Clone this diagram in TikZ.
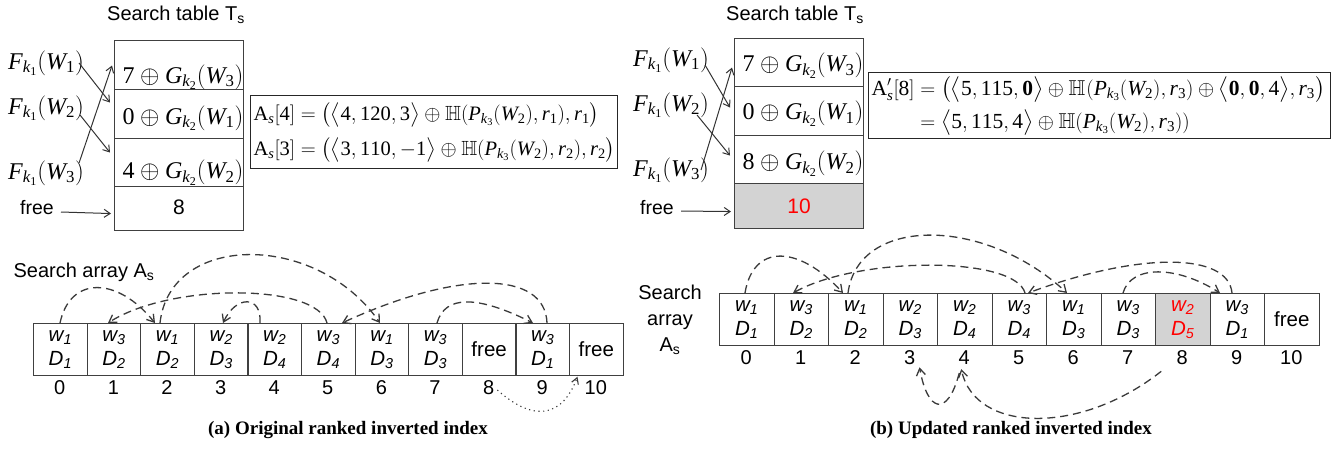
\documentclass[tikz,border=0pt]{standalone}
\usepackage{amsmath}
\usepackage{amssymb}
\usepackage[no-math]{fontspec}
\setmainfont{Liberation Serif}
\setsansfont{Liberation Sans}
\DeclareSymbolFont{tletters}{TU}{\rmdefault}{m}{it}
\DeclareSymbolFont{tdigits}{TU}{\rmdefault}{m}{n}
\DeclareMathSymbol{F}{\mathalpha}{tletters}{`F}
\DeclareMathSymbol{G}{\mathalpha}{tletters}{`G}
\DeclareMathSymbol{W}{\mathalpha}{tletters}{`W}
\DeclareMathSymbol{P}{\mathalpha}{tletters}{`P}
\DeclareMathSymbol{k}{\mathalpha}{tletters}{`k}
\DeclareMathSymbol{r}{\mathalpha}{tletters}{`r}
\DeclareMathSymbol{s}{\mathalpha}{tletters}{`s}
\DeclareMathSymbol{0}{\mathalpha}{tdigits}{`0}
\DeclareMathSymbol{1}{\mathalpha}{tdigits}{`1}
\DeclareMathSymbol{2}{\mathalpha}{tdigits}{`2}
\DeclareMathSymbol{3}{\mathalpha}{tdigits}{`3}
\DeclareMathSymbol{4}{\mathalpha}{tdigits}{`4}
\DeclareMathSymbol{5}{\mathalpha}{tdigits}{`5}
\DeclareMathSymbol{7}{\mathalpha}{tdigits}{`7}
\DeclareMathSymbol{8}{\mathalpha}{tdigits}{`8}
\usetikzlibrary{arrows.meta,calc}
\definecolor{bordc}{HTML}{404040}
\definecolor{arcc}{HTML}{3A3A3A}
\definecolor{cellgray}{HTML}{D3D3D3}
\definecolor{hired}{HTML}{FF0000}
\newcommand{\wdc}[2]{w\textsubscript{#1}\\D\textsubscript{#2}}
\tikzset{
  cellbox/.style={draw=bordc, line width=1.1pt, minimum width=54.5pt, minimum height=52pt, inner sep=0pt, anchor=north west, align=center, font=\sffamily\itshape\fontsize{20.5}{24}\selectfont},
  cellboxL/.style={cellbox, minimum width=53.6pt},
  idxlab/.style={font=\sffamily\fontsize{20}{20}\selectfont, inner sep=0pt},
  rowbox/.style={draw=bordc, line width=1.1pt, minimum width=129pt, inner sep=0pt, anchor=north west},
  rowtext/.style={inner sep=0pt, font=\fontsize{24}{24}\selectfont},
  flab/.style={anchor=west, inner sep=0pt, font=\fontsize{24}{24}\selectfont},
  sanslab/.style={font=\sffamily\fontsize{19.5}{19.5}\selectfont, inner sep=0pt},
  titlelab/.style={font=\sffamily\fontsize{20}{26}\selectfont, inner sep=0pt, align=center},
  farrow/.style={draw=black!80, line width=1pt, -{Straight Barb[length=6pt,width=8pt]}},
  dasharc/.style={draw=arcc, line width=1.3pt, dash pattern=on 8pt off 5pt, -{Straight Barb[length=7pt,width=9pt]}},
  dotarc/.style={draw=arcc, line width=1.1pt, dash pattern=on 1.2pt off 3.5pt, -{Straight Barb[length=6pt,width=7pt]}},
  eqbox/.style={draw=black!85, line width=1.3pt, inner xsep=3pt, inner ysep=0pt, anchor=north west, align=left},
  captionlab/.style={font=\bfseries\fontsize{19}{19}\selectfont, inner sep=0pt}
}
\begin{document}
\begin{tikzpicture}[x=1pt,y=-1pt]
\useasboundingbox (0,0) rectangle (1335,448);

% ================= LEFT PANEL =================
\node[titlelab] (titleL) at (176,15) {Search table T\textsubscript{s}};
\node[rowbox, minimum height=49pt] (rL1) at (114,40) {};
\node[rowbox, minimum height=49pt] (rL2) at (114,89) {};
\node[rowbox, minimum height=48pt] (rL3) at (114,138) {};
\node[rowbox, minimum height=44pt] (rL4) at (114,186) {};
\node[rowtext] (tL1) at ($(rL1.center)+(4,12)$) {$7\oplus G_{k_2}(W_3)$};
\node[rowtext] (tL2) at ($(rL2.center)+(4,4)$) {$0\oplus G_{k_2}(W_1)$};
\node[rowtext] (tL3) at ($(rL3.center)+(4,10)$) {$4\oplus G_{k_2}(W_2)$};
\node[sanslab, font=\sffamily\fontsize{21}{21}\selectfont] (tL4) at ($(rL4.center)+(0,-1)$) {8};

\node[flab] (fL1) at (8,63) {$F_{k_1}(W_1)$};
\node[flab] (fL2) at (8,108) {$F_{k_1}(W_2)$};
\node[flab] (fL3) at (8,173) {$F_{k_1}(W_3)$};
\node[sanslab] (freeL) at (37,208) {free};

\draw[farrow] ($(fL1.east)+(-5,0)$) -- ($(rL2.west)+(-4,-11.5)$);
\draw[farrow] ($(fL2.east)+(-4,7)$) -- ($(rL3.west)+(-4,-10)$);
\draw[farrow] ($(fL3.east)+(-5,-10)$) -- ($(rL1.west)+(-2,0.5)$);
\draw[farrow] ($(freeL.east)+(7,4)$) -- ($(rL4.west)+(-3,5)$);

\node[eqbox, text width=361pt, minimum height=73pt, font=\fontsize{20.5}{30}\selectfont] (eqL) at (250,95) {%
$\begin{array}{@{}l@{}}
\textrm{A}_s[4]=\bigl(\bigl\langle 4,120,3\bigr\rangle\oplus\mathbb{H}(P_{k_3}(W_2),r_1),r_1\bigr)\\[5pt]
\textrm{A}_s[3]=\bigl(\bigl\langle 3,110,-1\bigr\rangle\oplus\mathbb{H}(P_{k_3}(W_2),r_2),r_2\bigr)
\end{array}$};

\node[titlelab] (arrL) at (84,272) {Search array A\textsubscript{s}};

\node[cellboxL] (l0) at (33.0,323) {\wdc{1}{1}};
\node[cellboxL] (l1) at (86.6,323) {\wdc{3}{2}};
\node[cellboxL] (l2) at (140.2,323) {\wdc{1}{2}};
\node[cellboxL] (l3) at (193.8,323) {\wdc{2}{3}};
\node[cellboxL] (l4) at (247.4,323) {\wdc{2}{4}};
\node[cellboxL] (l5) at (301.0,323) {\wdc{3}{4}};
\node[cellboxL] (l6) at (354.6,323) {\wdc{1}{3}};
\node[cellboxL] (l7) at (408.2,323) {\wdc{3}{3}};
\node[cellboxL] (l8) at (461.8,323) {\upshape free};
\node[cellboxL] (l9) at (515.4,323) {\wdc{3}{1}};
\node[cellboxL] (l10) at (569.0,323) {\upshape free};
\foreach \i in {0,...,10} \node[idxlab] (li\i) at ({33+53.6*(\i+0.5)},388) {\i};

\draw[dasharc] ($(l0.north west)+(27,0)$) .. controls +(10,-47) and +(-38,-47) .. ($(l2.north west)+(14.8,0)$);
\draw[dasharc] ($(l2.north west)+(19.8,0)$) .. controls +(10,-91) and +(-63,-91) .. ($(l6.north west)+(25.4,0)$);
\draw[dasharc] ($(l5.north west)+(26,0)$) .. controls +(-10,-40) and +(62,-40) .. ($(l1.north west)+(21.4,0)$);
\draw[dasharc] ($(l4.north west)+(12.6,0)$) .. controls +(2,-28) and +(13,-28) .. ($(l3.north west)+(29.2,0)$);
\draw[dasharc] ($(l9.north west)+(31.6,0)$) .. controls +(-2,-53) and +(115,-53) .. ($(l5.north west)+(41,0)$);
\draw[dasharc] ($(l7.north west)+(28.8,0)$) .. controls +(8,-28) and +(-56,-28) .. ($(l9.north west)+(17.6,0)$);
\draw[dotarc] ($(li8.east)+(3,2)$) .. controls +(37,33) and +(-15,40) .. ($(li10.north west)+(-7,-4)$);

\node[captionlab] (capA) at (348,430) {(a) Original ranked inverted index};

% ================= RIGHT PANEL =================
\node[titlelab] (titleR) at (795,15) {Search table T\textsubscript{s}};
\node[rowbox, minimum height=48pt] (rR1) at (734,38) {};
\node[rowbox, minimum height=49pt] (rR2) at (734,86) {};
\node[rowbox, minimum height=48pt] (rR3) at (734,135) {};
\node[rowbox, minimum height=45pt, fill=cellgray] (rR4) at (734,183) {};
\node[rowtext] (tR1) at ($(rR1.center)+(4,3)$) {$7\oplus G_{k_2}(W_3)$};
\node[rowtext] (tR2) at ($(rR2.center)+(4,2.5)$) {$0\oplus G_{k_2}(W_1)$};
\node[rowtext] (tR3) at ($(rR3.center)+(4,4)$) {$8\oplus G_{k_2}(W_2)$};
\node[sanslab, font=\sffamily\fontsize{21}{21}\selectfont, text=hired] (tR4) at ($(rR4.center)+(0,0)$) {10};

\node[flab] (fR1) at (633,60) {$F_{k_1}(W_1)$};
\node[flab] (fR2) at (633,105) {$F_{k_1}(W_2)$};
\node[flab] (fR3) at (633,170) {$F_{k_1}(W_3)$};
\node[sanslab] (freeR) at (657,208) {free};

\draw[farrow] ($(fR1.east)+(-4,5)$) -- ($(rR2.west)+(-4,-3.5)$);
\draw[farrow] ($(fR2.east)+(-12,10)$) -- ($(rR3.west)+(-4,-4)$);
\draw[farrow] ($(fR3.east)+(-8,0)$) -- ($(rR1.west)+(-2,5)$);
\draw[farrow] ($(freeR.east)+(7,3)$) -- ($(rR4.west)+(-3,5.5)$);

\node[eqbox, text width=456pt, minimum height=66pt, font=\fontsize{21.5}{30}\selectfont] (eqR) at (868,72) {%
$\begin{array}{@{}r@{}l@{}}
\textrm{A}'_s[8] & {}=\bigl(\bigl\langle 5,115,\textbf{0}\bigr\rangle\oplus\mathbb{H}\mkern1mu(P_{k_3}(W_2),r_3)\oplus\bigl\langle\textbf{0},\textbf{0},4\bigr\rangle,r_3\bigr)\\[3pt]
 & {}=\bigl\langle 5,115,4\bigr\rangle\oplus\mathbb{H}(P_{k_3}(W_2),r_3))
\end{array}$};

\node[titlelab] (arrR) at (670,320) {Search\\array\\A\textsubscript{s}};

\node[cellbox] (r0) at (719.0,293) {\wdc{1}{1}};
\node[cellbox] (r1) at (773.5,293) {\wdc{3}{2}};
\node[cellbox] (r2) at (828.0,293) {\wdc{1}{2}};
\node[cellbox] (r3) at (882.5,293) {\wdc{2}{3}};
\node[cellbox] (r4) at (937.0,293) {\wdc{2}{4}};
\node[cellbox] (r5) at (991.5,293) {\wdc{3}{4}};
\node[cellbox] (r6) at (1046.0,293) {\wdc{1}{3}};
\node[cellbox] (r7) at (1100.5,293) {\wdc{3}{3}};
\node[cellbox, fill=cellgray, text=hired] (r8) at (1155.0,293) {\wdc{2}{5}};
\node[cellbox] (r9) at (1209.5,293) {\wdc{3}{1}};
\node[cellbox] (r10) at (1264.0,293) {\upshape free};
\foreach \i in {0,...,10} \node[idxlab] (ri\i) at ({719+54.5*(\i+0.5)},358) {\i};

\draw[dasharc] ($(r0.north west)+(26,0)$) .. controls +(8,-49) and +(-45,-49) .. ($(r2.north west)+(15,0)$);
\draw[dasharc] ($(r2.north west)+(20,0)$) .. controls +(10,-77) and +(-83,-77) .. ($(r6.north west)+(21,0)$);
\draw[dasharc] ($(r5.north west)+(33.5,0)$) .. controls +(-10,-37) and +(66,-37) .. ($(r1.north west)+(19.5,0)$);
\draw[dasharc] ($(r9.north west)+(22.5,0)$) .. controls +(-4,-41) and +(111,-41) .. ($(r5.north west)+(36.5,0)$);
\draw[dasharc] ($(r7.north west)+(22.5,0)$) .. controls +(8,-28) and +(-44,-28) .. ($(r9.north west)+(10.5,0)$);
\draw[dasharc] ($(ri8.south)+(-21,6)$) .. controls +(-81,64) and +(14,64) .. ($(ri4.south)+(-3,4)$);
\draw[dasharc] ($(ri4.south)+(-5,8)$) .. controls +(-12,45) and +(8,45) .. ($(ri3.south east)+(4,2)$);

\node[captionlab] (capB) at (1011,430) {(b) Updated ranked inverted index};
\end{tikzpicture}
\end{document}
